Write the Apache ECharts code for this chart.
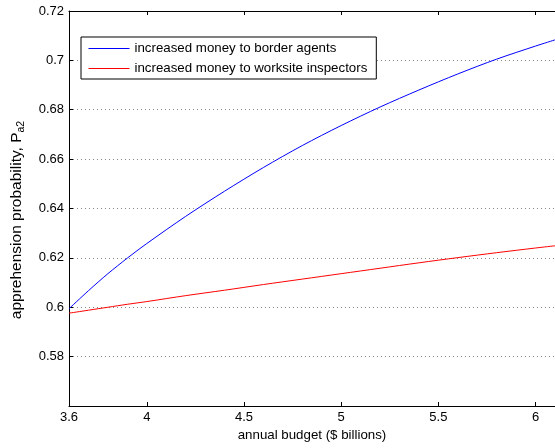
<!DOCTYPE html>
<html>
<head>
<meta charset="utf-8">
<script src="https://cdn.jsdelivr.net/npm/echarts@6/dist/echarts.min.js"></script>
<style>html,body{margin:0;padding:0;background:#fff;}#c{width:555px;height:448px;}</style>
</head>
<body>
<div id="c"></div>
<script>
var budget = [3.6, 3.7, 3.8, 3.9, 4.0, 4.2, 4.4, 4.6, 4.8, 5.0, 5.2, 5.4, 5.6, 5.8, 6.0, 6.1];
var borderAgents = [0.5994, 0.6067, 0.6136, 0.6199, 0.6258, 0.6368, 0.6470, 0.6566, 0.6655, 0.6736, 0.6811, 0.6880, 0.6945, 0.7005, 0.7058, 0.7083];
var worksiteInspectors = [0.5976, 0.5988, 0.6000, 0.6012, 0.6023, 0.6047, 0.6069, 0.6092, 0.6114, 0.6136, 0.6158, 0.6180, 0.6201, 0.6221, 0.6240, 0.6249];
var seriesNames = ['increased money to border agents', 'increased money to worksite inspectors'];
var xTicks = [3.6, 4, 4.5, 5, 5.5, 6];
var yTickLabels = ['', '0.58', '0.6', '0.62', '0.64', '0.66', '0.68', '0.7', '0.72'];

var FONT = 'Liberation Sans, Arial, Helvetica, sans-serif';
function pairs(xs, ys) { return xs.map(function (x, i) { return [x, ys[i]]; }); }

var chart = echarts.init(document.getElementById('c'), null, {renderer: 'canvas'});
chart.setOption({
  animation: false,
  backgroundColor: '#fff',
  textStyle: {fontFamily: FONT, color: '#000'},
  grid: {left: 69, top: 11, right: -6, bottom: 42, containLabel: false},
  legend: {
    orient: 'vertical', left: 81, top: 37,
    data: seriesNames,
    backgroundColor: '#fff', borderColor: '#000', borderWidth: 1,
    padding: [5, 9, 4, 7], itemGap: 7, itemWidth: 41, itemHeight: 14,
    itemStyle: {opacity: 0},
    lineStyle: {width: 1},
    textStyle: {fontFamily: FONT, fontSize: 13.3, color: '#000'}
  },
  xAxis: [{
    type: 'value', min: 3.6, max: 6.1, position: 'bottom',
    name: 'annual budget ($ billions)', nameLocation: 'middle', nameGap: 20,
    nameTextStyle: {fontFamily: FONT, fontSize: 13.3, color: '#000'},
    axisLine: {show: true, onZero: false, lineStyle: {color: '#000', width: 1}},
    axisTick: {show: true, inside: true, length: 4, customValues: xTicks, lineStyle: {color: '#000'}},
    axisLabel: {show: true, customValues: xTicks, margin: 5, fontFamily: FONT, fontSize: 13, color: '#000',
      formatter: function (v) { return String(v); }},
    splitLine: {show: false}
  }, {
    type: 'value', min: 3.6, max: 6.1, position: 'top',
    axisLine: {show: true, onZero: false, lineStyle: {color: '#000', width: 1}},
    axisTick: {show: true, inside: true, length: 4, customValues: xTicks, lineStyle: {color: '#000'}},
    axisLabel: {show: false},
    splitLine: {show: false}
  }],
  yAxis: [{
    type: 'value', min: 0.56, max: 0.72, interval: 0.02, position: 'left',
    name: '{a|apprehension probability, P}{s|a2}', nameLocation: 'middle', nameGap: 42, nameRotate: 90,
    nameTextStyle: {fontFamily: FONT, fontSize: 15.5, color: '#000', padding: [0, 23, 0, 0],
      rich: {a: {fontFamily: FONT, fontSize: 15.5, color: '#000', verticalAlign: 'middle'},
             s: {fontFamily: FONT, fontSize: 10.5, color: '#000', verticalAlign: 'bottom', padding: [9, 0, 0, 0]}}},
    axisLine: {show: true, onZero: false, lineStyle: {color: '#000', width: 1}},
    axisTick: {show: true, inside: true, length: 4, lineStyle: {color: '#000'}},
    axisLabel: {margin: 5, fontFamily: FONT, fontSize: 13, color: '#000',
      formatter: function (v) { var i = Math.round((v - 0.56) / 0.02); return yTickLabels[i] || ''; }},
    splitLine: {show: true, lineStyle: {color: '#888', width: 1, type: [1, 3]}}
  }],
  series: [{
    name: seriesNames[0], type: 'line', data: pairs(budget, borderAgents),
    symbol: 'none', smooth: 0.3, lineStyle: {color: '#0000ff', width: 1}, itemStyle: {color: '#0000ff'}
  }, {
    name: seriesNames[1], type: 'line', data: pairs(budget, worksiteInspectors),
    symbol: 'none', smooth: 0.3, lineStyle: {color: '#ff0000', width: 1}, itemStyle: {color: '#ff0000'}
  }]
});
</script>
</body>
</html>
